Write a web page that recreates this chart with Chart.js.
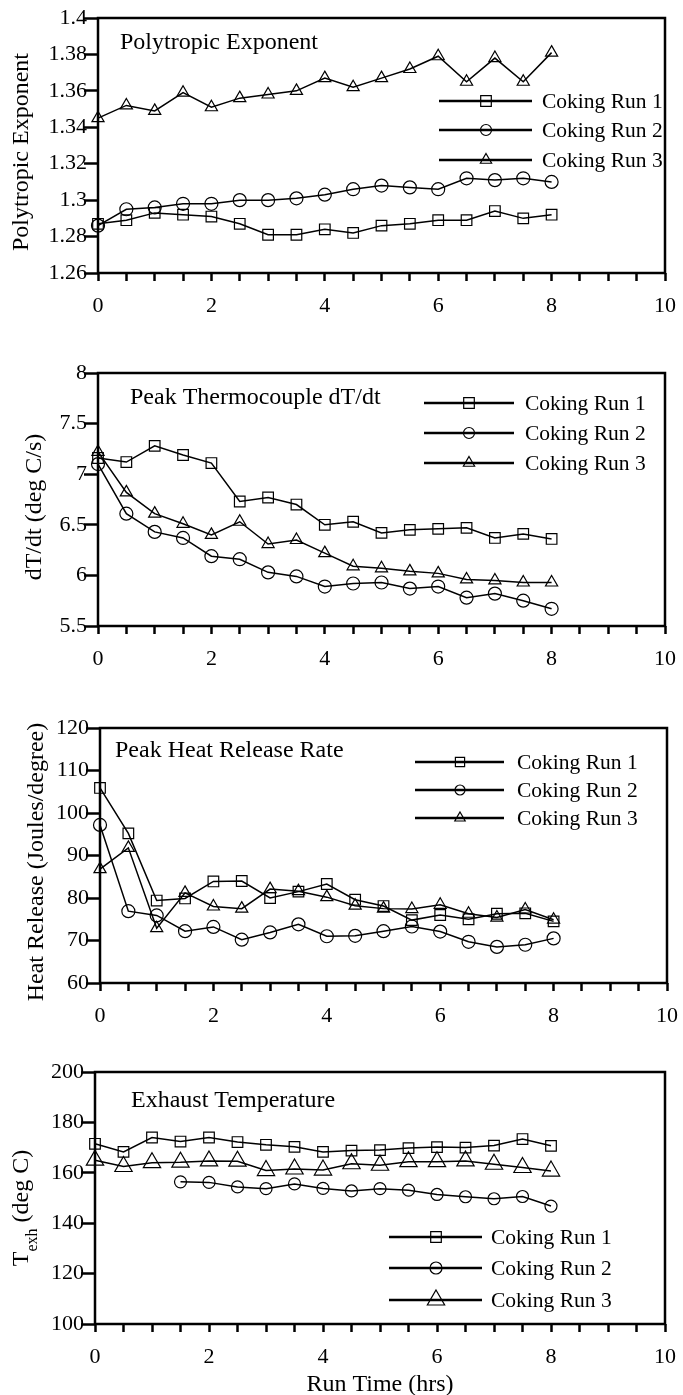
<!DOCTYPE html>
<html><head><meta charset="utf-8">
<script src="https://cdn.jsdelivr.net/npm/chart.js@4/dist/chart.umd.min.js"></script>
<style>
html,body{margin:0;padding:0;background:#fff;}
#wrap{position:relative;width:683px;height:1395px;overflow:hidden;}
canvas{position:absolute;left:0;}
</style></head><body><div id="wrap"></div>
<script>
// ---------- data ----------
const runTime = [0,0.5,1,1.5,2,2.5,3,3.5,4,4.5,5,5.5,6,6.5,7,7.5,8];
const runNames = ['Coking Run 1','Coking Run 2','Coking Run 3'];
const xTickValues = [0,0.5,1,1.5,2,2.5,3,3.5,4,4.5,5,5.5,6,6.5,7,7.5,8,8.5,9,9.5,10];
const xLabelValues = [0,2,4,6,8,10];
const xTickLabels = ['0','2','4','6','8','10'];

const polyRun1 = [1.287,1.289,1.293,1.292,1.291,1.287,1.281,1.281,1.284,1.282,1.286,1.287,1.289,1.289,1.294,1.290,1.292];
const polyRun2 = [1.286,1.295,1.296,1.298,1.298,1.300,1.300,1.301,1.303,1.306,1.308,1.307,1.306,1.312,1.311,1.312,1.310];
const polyRun3 = [1.345,1.352,1.349,1.359,1.351,1.356,1.358,1.360,1.367,1.362,1.367,1.372,1.379,1.365,1.378,1.365,1.381];
const polyTicks = [1.26,1.28,1.3,1.32,1.34,1.36,1.38,1.4];
const polyTickLabels = ['1.26','1.28','1.3','1.32','1.34','1.36','1.38','1.4'];

const dtdtRun1 = [7.16,7.12,7.28,7.19,7.11,6.73,6.77,6.70,6.50,6.53,6.42,6.45,6.46,6.47,6.37,6.41,6.36];
const dtdtRun2 = [7.10,6.61,6.43,6.37,6.19,6.16,6.03,5.99,5.89,5.92,5.93,5.87,5.89,5.78,5.82,5.75,5.67];
const dtdtRun3 = [7.22,6.82,6.61,6.51,6.40,6.53,6.31,6.35,6.22,6.09,6.07,6.04,6.02,5.96,5.95,5.93,5.93];
const dtdtTicks = [5.5,6,6.5,7,7.5,8];
const dtdtTickLabels = ['5.5','6','6.5','7','7.5','8'];

const heatRun1 = [105.9,95.2,79.4,79.9,83.9,84.0,80.0,81.5,83.3,79.6,78.1,74.8,76.0,75.0,76.3,76.4,74.5];
const heatRun2 = [97.2,76.9,75.9,72.2,73.2,70.2,71.9,73.8,71.0,71.1,72.2,73.3,72.1,69.7,68.5,69.0,70.5];
const heatRun3 = [86.8,91.8,72.9,81.2,78.0,77.5,82.1,81.6,80.2,78.2,77.5,77.4,78.4,76.3,75.4,77.3,74.9];
const heatTicks = [60,70,80,90,100,110,120];
const heatTickLabels = ['60','70','80','90','100','110','120'];

const texhRun1 = [171.5,168.3,174.0,172.4,174.0,172.2,171.1,170.3,168.3,168.8,169.0,169.8,170.2,170.0,170.8,173.4,170.7];
const texhRun2 = [null,null,null,156.4,156.2,154.4,153.7,155.6,153.8,152.8,153.7,153.1,151.4,150.5,149.7,150.6,146.8];
const texhRun3 = [165.0,162.5,164.0,164.2,164.7,164.6,160.9,161.5,161.1,163.6,163.0,164.4,164.4,164.7,163.4,162.1,160.7];
const texhTicks = [100,120,140,160,180,200];
const texhTickLabels = ['100','120','140','160','180','200'];

// ---------- layout / style ----------
const FONT = '"Liberation Serif","Times New Roman",serif';
const pointStyles = ['rect','circle','triangle'];
const panels = [
  {top:18,bottom:273,left:98,right:665,ticks:polyTicks,tickLabels:polyTickLabels,series:[polyRun1,polyRun2,polyRun3],
   title:'Polytropic Exponent',titleX:120,titleY:43,yTitle:'Polytropic Exponent',yTitleX:22,yTitleY:152,
   legend:{x1:439,x2:532,mx:486,tx:542,ys:[101,130,160],r:[7.5,5.5,6.5]},radius:[7.5,6.5,7]},
  {top:373,bottom:626,left:98,right:665,ticks:dtdtTicks,tickLabels:dtdtTickLabels,series:[dtdtRun1,dtdtRun2,dtdtRun3],
   title:'Peak Thermocouple dT/dt',titleX:130,titleY:398,yTitle:'dT/dt (deg C/s)',yTitleX:35,yTitleY:507,
   legend:{x1:424,x2:514,mx:469,tx:525,ys:[403,433,463],r:[7.5,5.5,6.5]},radius:[7.5,6.5,7]},
  {top:728,bottom:983,left:100,right:667,ticks:heatTicks,tickLabels:heatTickLabels,series:[heatRun1,heatRun2,heatRun3],
   title:'Peak Heat Release Rate',titleX:115,titleY:751,yTitle:'Heat Release (Joules/degree)',yTitleX:37,yTitleY:862,
   legend:{x1:415,x2:504,mx:460,tx:517,ys:[762,790,818],r:[6.5,5,6]},radius:[7.5,6.5,7]},
  {top:1072,bottom:1324,left:95,right:665,ticks:texhTicks,tickLabels:texhTickLabels,series:[texhRun1,texhRun2,texhRun3],
   title:'Exhaust Temperature',titleX:131,titleY:1101,yTitle:null,yTitleX:20,yTitleY:1208,
   legend:{x1:389,x2:482,mx:436,tx:491,ys:[1237,1268,1300],r:[7.5,6,10]},radius:[7.5,6,10],
   xTitle:'Run Time (hrs)',xTitleY:1385}
];

function marker(ctx, style, x, y, r){
  ctx.beginPath();
  if(style==='rect'){const s=r*Math.SQRT1_2;ctx.rect(x-s,y-s,2*s,2*s);}
  else if(style==='circle'){ctx.arc(x,y,r,0,Math.PI*2);}
  else {ctx.moveTo(x,y-r);ctx.lineTo(x+r*0.866,y+r/2);ctx.lineTo(x-r*0.866,y+r/2);ctx.closePath();}
  ctx.stroke();
}

const wrap = document.getElementById('wrap');
const YW = 60, XH = 48, PADTOP = 20;

panels.forEach((p, pi) => {
  const cTop = p.top - PADTOP;
  const cH = pi === 3 ? (1395 - cTop) : (p.bottom - p.top) + PADTOP + XH + 12;
  const cv = document.createElement('canvas');
  cv.width = 683; cv.height = cH;
  cv.style.top = cTop + 'px'; cv.style.width = '683px'; cv.style.height = cH + 'px';
  wrap.appendChild(cv);

  const deco = {
    id: 'deco' + pi,
    afterDraw(chart){
      const ctx = chart.ctx, a = chart.chartArea;
      ctx.save();
      ctx.strokeStyle = '#000'; ctx.lineWidth = 2.5;
      ctx.strokeRect(a.left, a.top, a.right - a.left, a.bottom - a.top);
      ctx.fillStyle = '#000';
      // inner title
      ctx.font = '24px ' + FONT; ctx.textAlign = 'left'; ctx.textBaseline = 'middle';
      ctx.fillText(p.title, p.titleX, p.titleY - cTop);
      // legend
      const L = p.legend;
      runNames.forEach((nm, i) => {
        const y = L.ys[i] - cTop;
        ctx.lineWidth = 2.5;
        ctx.beginPath(); ctx.moveTo(L.x1, y); ctx.lineTo(L.x2, y); ctx.stroke();
        ctx.lineWidth = 1.2;
        marker(ctx, pointStyles[i], L.mx, y, L.r[i]);
        ctx.font = '21.5px ' + FONT; ctx.textAlign = 'left'; ctx.textBaseline = 'middle';
        ctx.fillText(nm, L.tx, y + 1);
      });
      // y title
      ctx.save();
      ctx.translate(p.yTitleX, p.yTitleY - cTop);
      ctx.rotate(-Math.PI / 2);
      if (p.yTitle) {
        ctx.font = '24px ' + FONT; ctx.textAlign = 'center'; ctx.textBaseline = 'middle';
        ctx.fillText(p.yTitle, 0, 0);
      } else {
        const f1 = '24px ' + FONT, f2 = '16px ' + FONT;
        ctx.font = f1; const wT = ctx.measureText('T').width; const wR = ctx.measureText(' (deg C)').width;
        ctx.font = f2; const wS = ctx.measureText('exh').width;
        let x0 = -(wT + wS + wR) / 2;
        ctx.textAlign = 'left'; ctx.textBaseline = 'alphabetic';
        const base = 8;
        ctx.font = f1; ctx.fillText('T', x0, base); x0 += wT;
        ctx.font = f2; ctx.fillText('exh', x0, base + 9); x0 += wS;
        ctx.font = f1; ctx.fillText(' (deg C)', x0, base);
      }
      ctx.restore();
      if (p.xTitle) {
        ctx.font = '24px ' + FONT; ctx.textAlign = 'center'; ctx.textBaseline = 'middle';
        ctx.fillText(p.xTitle, (a.left + a.right) / 2, p.xTitleY - cTop);
      }
      ctx.restore();
    }
  };

  new Chart(cv, {
    type: 'line',
    data: {
      datasets: p.series.map((s, i) => ({
        label: runNames[i],
        data: runTime.map((t, k) => ({x: t, y: s[k]})),
        borderColor: '#000', borderWidth: 1.5,
        pointStyle: pointStyles[i], pointRadius: p.radius[i],
        pointBorderColor: '#000', pointBorderWidth: 1.2,
        pointBackgroundColor: 'rgba(0,0,0,0)',
        tension: 0, clip: false, spanGaps: false
      }))
    },
    options: {
      responsive: false, animation: false, events: [],
      layout: {padding: {top: PADTOP, left: p.left - YW, right: 683 - p.right, bottom: cH - PADTOP - (p.bottom - p.top) - XH}},
      plugins: {legend: {display: false}, tooltip: {enabled: false}},
      scales: {
        x: {
          type: 'linear', min: 0, max: 10,
          afterBuildTicks(sc){ sc.ticks = xTickValues.map(v => ({value: v})); },
          afterFit(sc){ sc.height = XH; sc.paddingLeft = 0; sc.paddingRight = 0; },
          ticks: {autoSkip: false, maxRotation: 0, padding: 12, color: '#000', font: {family: FONT, size: 22},
            callback(v){ const k = xLabelValues.indexOf(v); return k >= 0 ? xTickLabels[k] : ''; }},
          grid: {display: true, drawOnChartArea: false, drawTicks: true, tickLength: 8, tickWidth: 2.5, tickColor: '#000'},
          border: {display: false}
        },
        y: {
          type: 'linear', min: p.ticks[0], max: p.ticks[p.ticks.length - 1],
          afterBuildTicks(sc){ sc.ticks = p.ticks.map(v => ({value: v})); },
          afterFit(sc){ sc.width = YW; },
          ticks: {autoSkip: false, padding: -3, color: '#000', font: {family: FONT, size: 22},
            callback(v){ const k = p.ticks.indexOf(v); return k >= 0 ? p.tickLabels[k] : ''; }},
          grid: {display: true, drawOnChartArea: false, drawTicks: true, tickLength: 14, tickWidth: 2.5, tickColor: '#000'},
          border: {display: false}
        }
      }
    },
    plugins: [deco]
  });
});
</script></body></html>
